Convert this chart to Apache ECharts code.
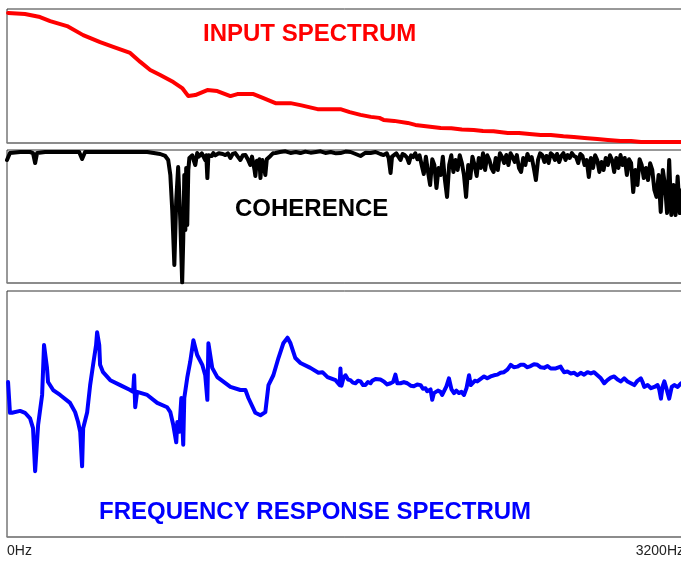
<!DOCTYPE html>
<html>
<head>
<meta charset="utf-8">
<script src="https://cdn.jsdelivr.net/npm/echarts@6/dist/echarts.min.js"></script>
<style>
html,body{margin:0;padding:0;background:#fff;overflow:hidden;}
#c{width:681px;height:561px;}
</style>
</head>
<body>
<div id="c"></div>
<script>
// ---- data ----
var titles = ['INPUT SPECTRUM', 'COHERENCE', 'FREQUENCY RESPONSE SPECTRUM'];
var freqMin = 0, freqMax = 3200;
var tickLabels = ['0Hz', '3200Hz'];

var inputHz = [5,85,156,204,284,360,440,502,582,630,677,724,786,828,857,890,947,994,1056,1089,1165,1212,1269,1340,1387,1468,1576,1620,1671,1720,1760,1780,1830,1894,1930,1970,2010,2050,2100,2150,2206,2250,2300,2367,2420,2470,2523,2570,2630,2679,2730,2790,2840,2900,2950,2997,3200];
var inputDb = [-1.2,-1.5,-2.4,-3.6,-5.1,-7.8,-9.9,-11.3,-13.1,-15.8,-18.2,-19.7,-21.8,-23.6,-26.0,-25.7,-24.2,-24.5,-26.0,-25.4,-25.4,-26.6,-28.1,-28.1,-28.7,-29.9,-29.9,-30.8,-31.6,-32.2,-32.5,-33.1,-33.4,-34.0,-34.6,-34.9,-35.2,-35.5,-35.6,-36.0,-36.1,-36.4,-36.5,-37.0,-37.0,-37.3,-37.6,-37.6,-38.0,-38.2,-38.5,-38.8,-39.1,-39.4,-39.4,-39.7,-39.7];

var cohHz = [0,14,62,109,123,133,142,180,341,355,369,535,663,724,748,762,772,781,791,800,809,819,828,833,838,843,847,852,857,862,
  866,876,881,890,899,906,914,921,928,937,942,947,952,960,968,975,985,994,1001,1008,1020,1032,1044,1056,1067,1079,1091,1103,1115,1127,1138,1150,1158,1165,1170,1174,1181,1188,1193,1198,1203,1207,1214,1221,1228,1236,1245,1257,1269,
  1290,1316,1340,1365,1387,1410,1435,1460,1482,1505,1530,1555,1576,1600,1624,1648,1671,1695,1718,1742,1765,1780,1795,1804,1813,1820,1827,1840,1850,
  1860,1870,1880,1890,1900,1910,1920,1930,1940,1950,
  1960,1970,1980,1990,2000,2010,2020,2030,2040,2050,
  2060,2070,2080,2090,2100,2110,2120,2130,2140,2150,
  2160,2170,2180,2190,2200,2210,2220,2230,2240,2250,
  2260,2270,2280,2290,2300,2310,2320,2330,2340,2350,
  2360,2370,2380,2390,2400,2410,2420,2430,2440,2450,
  2460,2470,2480,2490,2500,2510,2520,2530,2540,2550,
  2560,2570,2580,2590,2600,2610,2620,2630,2640,2650,
  2660,2670,2680,2690,2700,2710,2720,2730,2740,2750,
  2760,2770,2780,2790,2800,2810,2820,2830,2840,2850,
  2860,2870,2880,2890,2900,2910,2920,2930,2940,2950,
  2960,2970,2980,2990,3000,3010,3020,3030,3040,3050,
  3060,3070,3080,3090,3100,3110,3120,3130,3140,3150,
  3160,3170,3180,3190,3200];
var cohVal = [0.925,0.977,0.985,0.985,0.977,0.902,0.977,0.985,0.985,0.932,0.985,0.985,0.985,0.970,0.955,0.925,0.812,0.549,0.135,0.624,0.872,0.474,0.005,0.323,0.812,0.398,0.865,0.436,0.850,0.940,
  0.925,0.960,0.930,0.887,0.977,0.950,0.940,0.975,0.985,0.925,0.960,0.789,0.960,0.975,0.955,0.977,0.960,0.947,0.975,0.985,0.970,0.962,0.975,0.940,0.970,0.977,0.950,0.925,0.960,0.962,0.930,0.887,0.950,0.940,0.850,0.805,0.920,0.887,0.930,0.789,0.900,0.925,0.880,0.812,0.930,0.940,0.955,0.975,0.977,
  0.985,0.990,0.978,0.985,0.977,0.988,0.980,0.985,0.990,0.978,0.985,0.975,0.977,0.988,0.985,0.970,0.955,0.980,0.977,0.985,0.970,0.962,0.975,0.940,0.827,0.950,0.962,0.975,0.950,
  0.925,0.970,0.962,0.945,0.902,0.960,0.947,0.975,0.930,0.960,
  0.887,0.820,0.950,0.835,0.737,0.930,0.887,0.714,0.865,0.812,
  0.950,0.774,0.647,0.887,0.960,0.835,0.925,0.850,0.960,0.902,
  0.812,0.647,0.887,0.789,0.950,0.887,0.805,0.940,0.865,0.975,
  0.850,0.960,0.925,0.865,0.835,0.940,0.850,0.975,0.947,0.902,
  0.962,0.887,0.975,0.947,0.910,0.962,0.865,0.835,0.940,0.887,
  0.970,0.925,0.947,0.865,0.774,0.925,0.975,0.962,0.910,0.955,
  0.902,0.975,0.962,0.925,0.970,0.910,0.955,0.977,0.925,0.962,
  0.940,0.977,0.955,0.947,0.902,0.970,0.955,0.887,0.925,0.797,
  0.940,0.865,0.960,0.925,0.835,0.910,0.850,0.940,0.887,0.960,
  0.925,0.835,0.940,0.865,0.962,0.887,0.940,0.812,0.930,0.902,
  0.684,0.850,0.737,0.930,0.887,0.789,0.865,0.774,0.900,0.850,
  0.699,0.647,0.812,0.534,0.850,0.737,0.526,0.925,0.511,0.737,
  0.511,0.800,0.526,0.699,0.624];

var frfHz = [5,14,24,62,85,109,123,133,147,166,175,189,194,218,251,298,322,336,346,355,360,379,393,407,421,426,436,440,454,488,535,582,596,601,606,615,663,710,757,772,786,800,805,814,824,833,838,852,866,881,899,923,937,947,952,970,994,1056,1103,1127,1141,1174,1198,1221,1236,1259,1283,1306,1326,1340,1363,1387,1434,1472,1491,1515,1553,
  1572,1576,1581,1590,1600,1612,1623,1635,1647,1659,1671,1683,1694,1706,1718,1726,1734,1742,1750,1765,1781,1797,1813,1825,1836,1845,1860,1876,1892,1908,1923,1939,1955,1966,1978,1986,1994,2002,2010,2018,2026,2037,2049,2057,2065,2077,2089,2101,2113,2124,2136,2148,2160,2172,2184,2192,2199,2211,2223,2239,2255,2270,2286,2302,2318,2333,2349,2357,2365,2373,2381,2396,2412,2428,2444,2460,2475,2491,2507,2523,2539,2555,2570,2594,2617,2625,2633,2649,2665,2681,2696,2712,2728,2744,2760,2775,2791,2807,2823,2838,2854,2870,2886,2902,2917,2933,2949,2965,2980,2996,3004,3012,3028,3044,3060,3075,3083,3091,3099,3107,3118,3130,3142,3154,3170,3186,3200];
var frfDb = [-4.8,-9.8,-9.8,-9.5,-9.8,-10.7,-12.3,-19.3,-11.8,-6.9,1.2,-2.5,-4.8,-6.1,-6.9,-8.2,-9.7,-11.3,-12.9,-18.5,-12.3,-9.7,-5.3,-2.0,1.2,3.3,1.2,-2.0,-3.2,-4.5,-5.3,-6.1,-6.4,-3.7,-8.9,-6.4,-6.9,-8.2,-8.9,-9.7,-11.8,-14.6,-11.3,-12.9,-7.4,-15.0,-7.4,-4.1,-1.5,2.0,-0.4,-2.0,-3.7,-7.7,1.5,-2.5,-4.0,-5.6,-6.1,-6.1,-7.4,-9.8,-10.2,-9.7,-5.3,-3.7,-0.9,1.5,2.4,1.5,-0.9,-1.7,-2.5,-3.3,-3.2,-4.0,-4.5,
  -5.3,-2.6,-5.4,-4.2,-3.7,-4.4,-4.5,-4.9,-5.0,-4.6,-4.7,-5.3,-5.3,-4.8,-5.0,-4.6,-4.7,-4.3,-4.5,-4.4,-4.7,-5.2,-5.0,-4.8,-3.6,-5.0,-5.0,-4.8,-5.0,-5.4,-5.5,-5.2,-5.3,-5.9,-5.8,-6.3,-6.4,-6.0,-7.7,-6.6,-6.9,-6.2,-6.4,-6.9,-6.9,-5.5,-4.2,-6.0,-6.6,-6.2,-6.6,-6.4,-6.9,-5.8,-3.7,-5.3,-5.3,-4.6,-4.7,-4.3,-3.9,-4.2,-3.9,-3.7,-3.6,-3.3,-3.2,-3.0,-2.8,-2.4,-2.0,-2.4,-2.3,-2.0,-2.0,-2.4,-2.2,-1.9,-2.0,-2.4,-2.5,-2.2,-2.6,-2.6,-2.3,-2.8,-3.2,-3.1,-3.4,-3.3,-3.7,-3.3,-3.6,-3.2,-3.4,-3.2,-3.7,-4.2,-5.0,-4.5,-4.1,-3.9,-4.4,-4.7,-4.2,-4.7,-5.0,-5.3,-4.6,-4.2,-4.8,-5.6,-5.3,-5.8,-5.6,-5.3,-6.0,-7.5,-5.5,-4.7,-6.0,-7.5,-5.6,-5.3,-5.6,-5.0,-5.2];

function zip(xs, ys){ return xs.map(function(x,i){ return [x, ys[i]]; }); }

var FONT = '"Liberation Sans", Arial, Helvetica, sans-serif';
var chart = echarts.init(document.getElementById('c'), null, {renderer:'canvas'});

var grids = [
  {left:7, top:9, width:677, height:134},
  {left:7, top:150, width:677, height:133},
  {left:7, top:291, width:677, height:246}
].map(function(g){
  return Object.assign({show:true, borderColor:'#333', borderWidth:1, backgroundColor:'#fff',
    containLabel:false, outerBoundsMode:'none'}, g);
});

var xAxes = [0,1,2].map(function(i){
  return {
    type:'value', gridIndex:i, min:freqMin, max:freqMax, interval:freqMax,
    axisLine:{show:true, onZero:false, lineStyle:{color:'#888', width:1.5}},
    axisTick:{show:false}, splitLine:{show:false},
    axisLabel:{
      show: i === 2, margin:7, fontSize:14, color:'#222', fontFamily:FONT,
      alignMinLabel:'left', alignMaxLabel:'right', hideOverlap:false,
      formatter:function(v){ return v === freqMin ? tickLabels[0] : tickLabels[1]; }
    }
  };
});

var yAxes = [
  {type:'value', gridIndex:0, min:-40, max:0},
  {type:'value', gridIndex:1, min:0, max:1},
  {type:'value', gridIndex:2, min:-30, max:10}
].map(function(a){
  return Object.assign({show:false, splitLine:{show:false}}, a);
});

function lineSeries(idx, data, color){
  return {
    type:'line', xAxisIndex:idx, yAxisIndex:idx, data:data,
    showSymbol:false, symbol:'none', smooth:false,
    lineStyle:{color:color, width:4, join:'round', cap:'round'},
    silent:true, animation:false
  };
}

var titleColors = ['#ff0000', '#000000', '#0000ff'];
var titlePos = [{left:203, top:22}, {left:235, top:197}, {left:99, top:500}];

chart.setOption({
  animation:false,
  backgroundColor:'#fff',
  title: titles.map(function(t,i){
    return {text:t, left:titlePos[i].left, top:titlePos[i].top, padding:0,
      textStyle:{fontSize:24, fontWeight:'bold', color:titleColors[i], fontFamily:FONT}};
  }),
  grid: grids,
  xAxis: xAxes,
  yAxis: yAxes,
  series: [
    lineSeries(0, zip(inputHz, inputDb), '#ff0000'),
    lineSeries(1, zip(cohHz, cohVal), '#000000'),
    lineSeries(2, zip(frfHz, frfDb), '#0000ff')
  ]
});
</script>
</body>
</html>
